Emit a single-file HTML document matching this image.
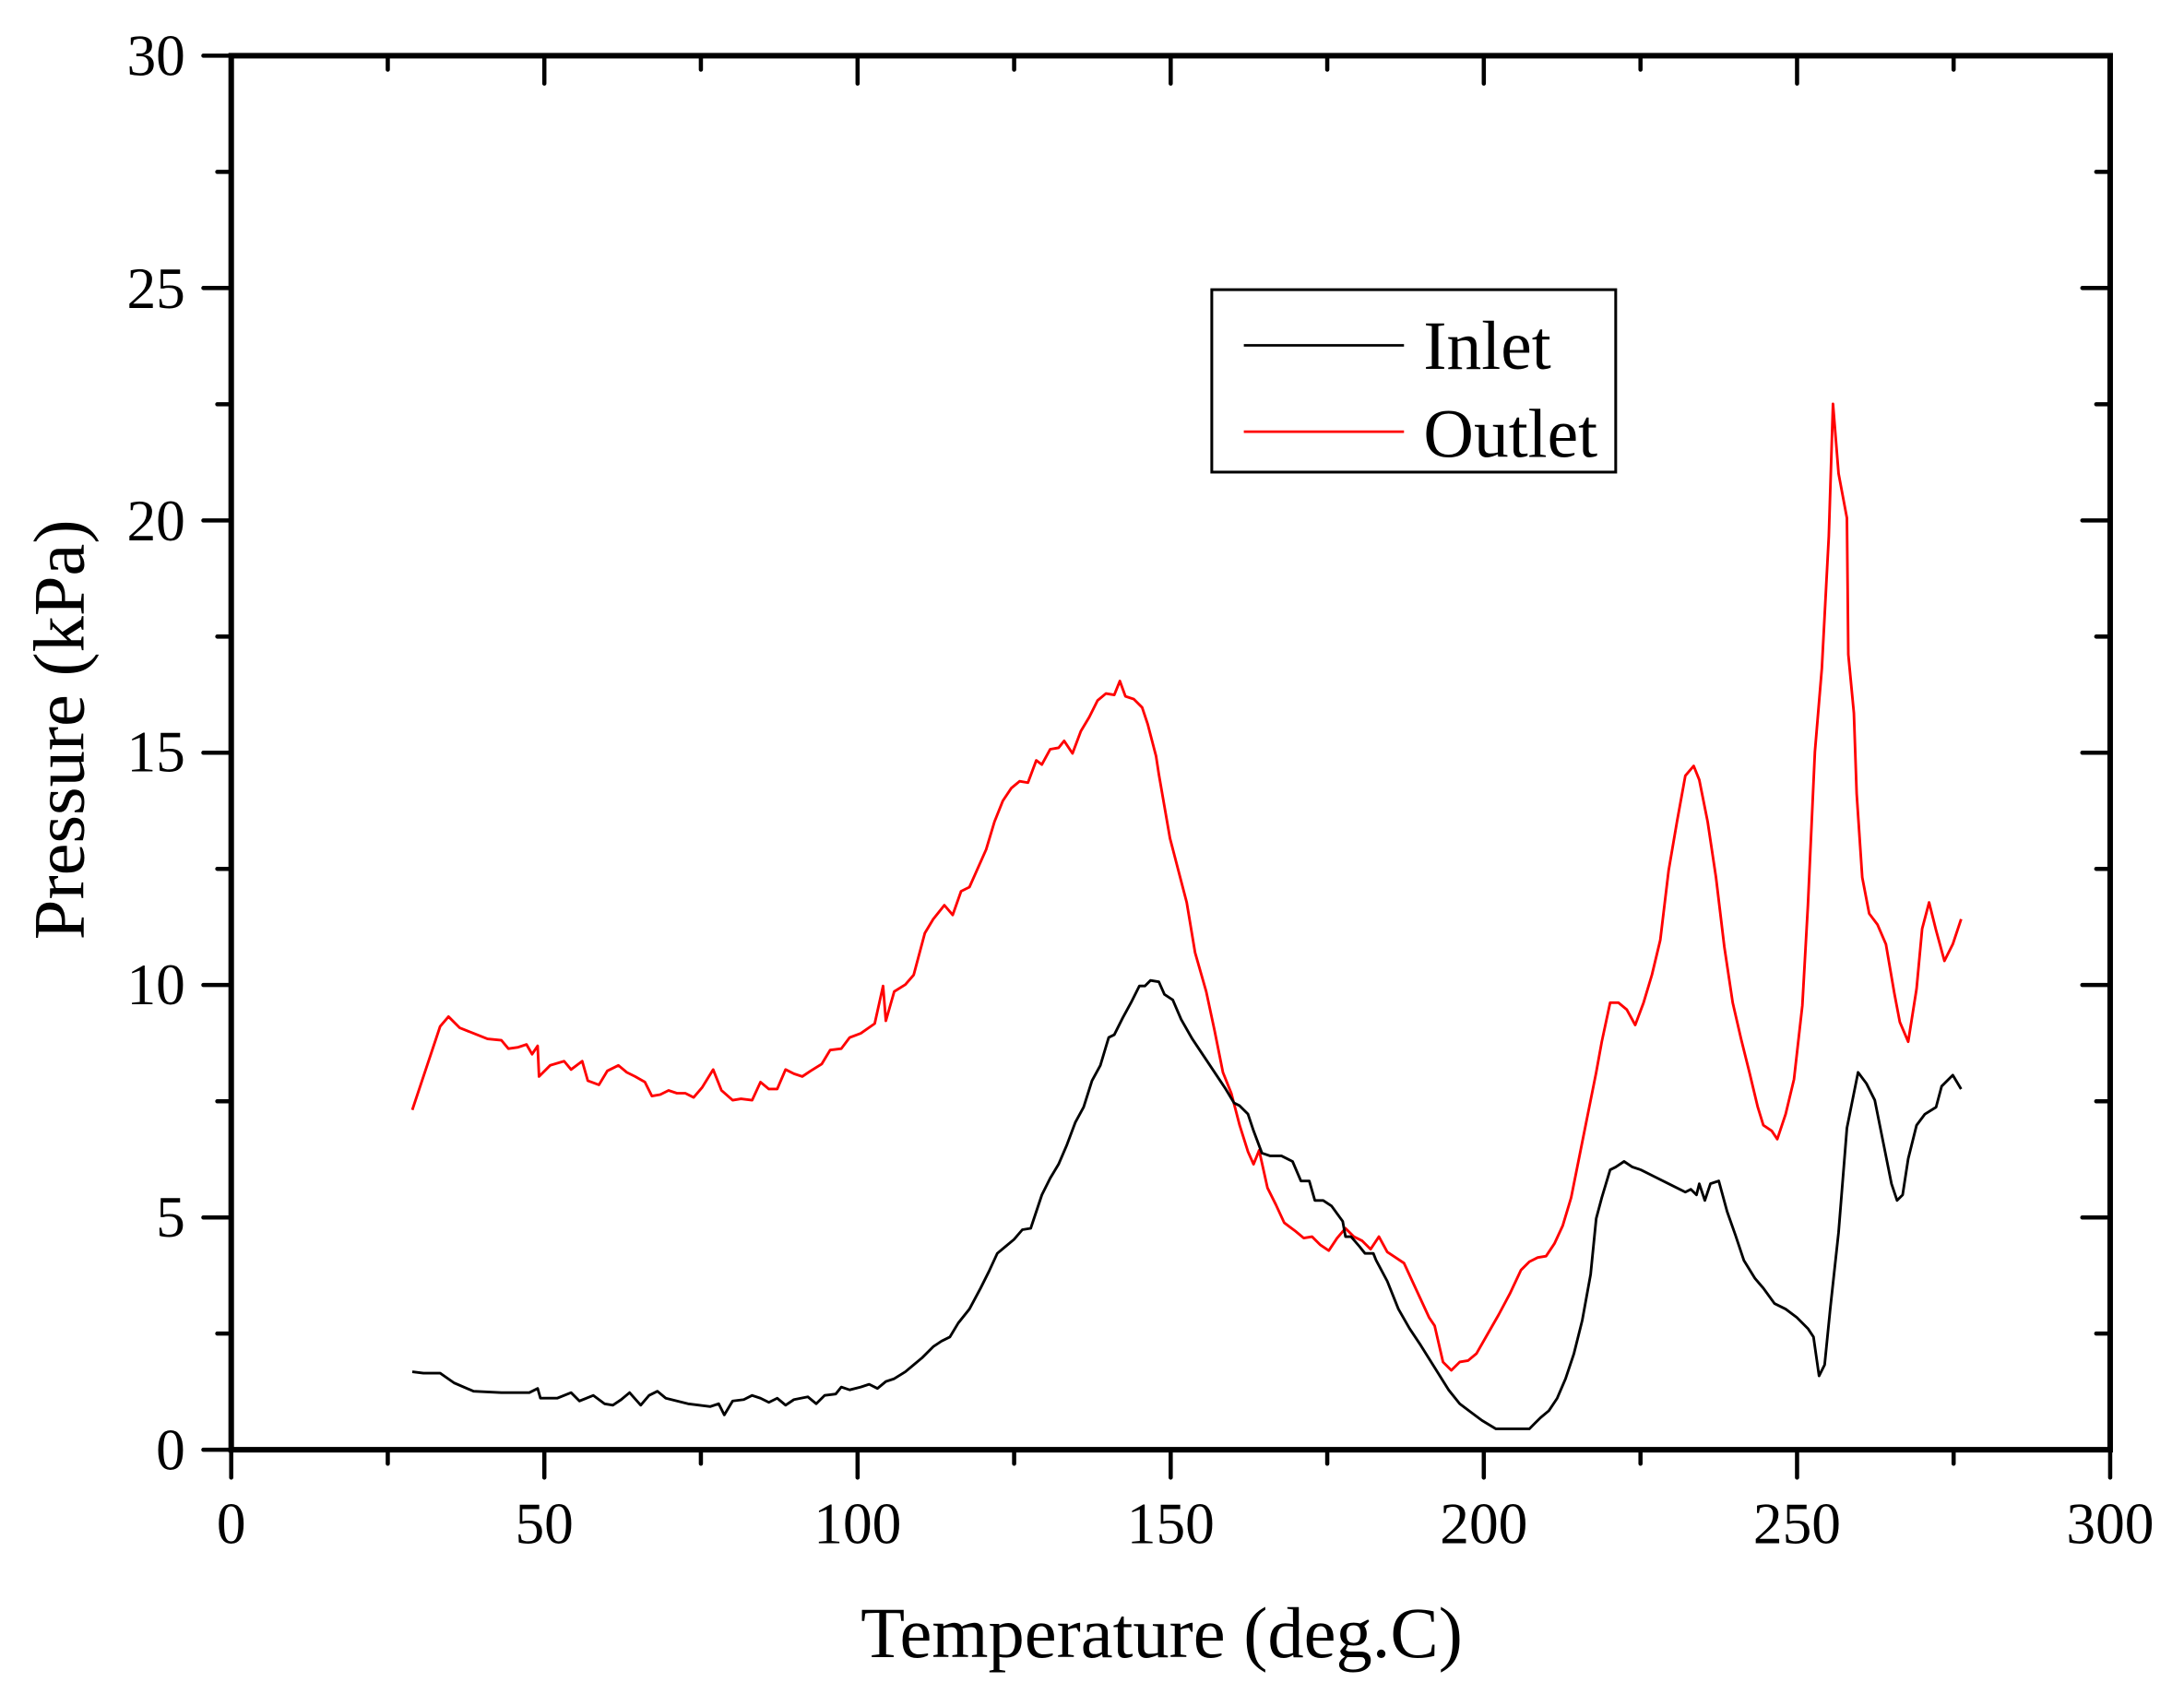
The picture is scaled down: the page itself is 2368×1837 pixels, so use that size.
<!DOCTYPE html>
<html><head><style>html,body{margin:0;padding:0;background:#fff}svg{display:block}</style></head>
<body>
<svg width="2368" height="1837" viewBox="0 0 1568 1216.4" xmlns="http://www.w3.org/2000/svg" font-family="Liberation Serif, serif">
<rect width="1568" height="1216.4" fill="#fff"/>
<g stroke="#000" stroke-width="3" stroke-linecap="round">
<path d="M166,1041v20M390.8,1041v20M615.7,1041v20M840.5,1041v20M1065.3,1041v20M1290.2,1041v20M1515,1041v20
M278.4,1041v10M503.2,1041v10M728.1,1041v10M952.9,1041v10M1177.8,1041v10M1402.6,1041v10
M166,40v20M390.8,40v20M615.7,40v20M840.5,40v20M1065.3,40v20M1290.2,40v20M1515,40v20
M278.4,40v10M503.2,40v10M728.1,40v10M952.9,40v10M1177.8,40v10M1402.6,40v10
M166,1041h-20M166,874.2h-20M166,707.3h-20M166,540.5h-20M166,373.7h-20M166,206.8h-20M166,40h-20
M166,957.6h-10M166,790.8h-10M166,623.9h-10M166,457.1h-10M166,290.3h-10M166,123.4h-10
M1515,874.2h-20M1515,707.3h-20M1515,540.5h-20M1515,373.7h-20M1515,206.8h-20
M1515,957.6h-10M1515,790.8h-10M1515,623.9h-10M1515,457.1h-10M1515,290.3h-10M1515,123.4h-10"/>
</g>
<rect x="166" y="40" width="1349" height="1001" fill="none" stroke="#000" stroke-width="4"/>
<g font-size="42" fill="#000" text-anchor="middle">
<text x="166" y="1108">0</text><text x="390.8" y="1108">50</text><text x="615.7" y="1108">100</text><text x="840.5" y="1108">150</text><text x="1065.3" y="1108">200</text><text x="1290.2" y="1108">250</text><text x="1515" y="1108">300</text>
</g>
<g font-size="42" fill="#000" text-anchor="end">
<text x="133" y="1055">0</text><text x="133" y="888">5</text><text x="133" y="721">10</text><text x="133" y="554">15</text><text x="133" y="388">20</text><text x="133" y="221">25</text><text x="133" y="54">30</text>
</g>
<text x="834" y="1190" font-size="52" text-anchor="middle">Temperature (deg.C)</text>
<text transform="translate(60,524) rotate(-90)" font-size="52" text-anchor="middle">Pressure (kPa)</text>
<rect x="870" y="208" width="290" height="131" fill="#fff" stroke="#000" stroke-width="2"/>
<line x1="893" y1="248" x2="1008" y2="248" stroke="#000" stroke-width="1.8"/>
<line x1="893" y1="310" x2="1008" y2="310" stroke="#f00" stroke-width="1.8"/>
<text x="1022" y="265" font-size="50">Inlet</text>
<text x="1022" y="328" font-size="50">Outlet</text>
<polyline fill="none" stroke="#f00" stroke-width="1.9" stroke-linejoin="round" points="296,797 305,770 316,737 322,730 330,738 340,742 350,746 360,747 365,753 372,752 378,750 382,757 386,751 387,773 395,765 405,762 410,768 418,762 422,776 430,779 436,769 444,765 450,770 456,773 463,777 468,787 474,786 480,783 486,785 492,785 498,788 504,781 512,768 518,783 526,790 532,789 540,790 546,777 552,782 558,782 564,768 570,771 576,773 582,769 590,764 596,754 604,753 610,745 618,742 628,735 634,708 636,733 642,712 650,707 656,700 664,670 670,660 678,650 684,657 690,640 696,637 700,628 708,610 714,590 720,575 726,566 732,561 738,562 744,546 748,549 754,538 760,537 764,532 770,541 776,525 782,515 788,503 794,498 800,499 804,489 808,500 814,502 820,508 824,520 830,543 832,556 840,602 846,625 852,648 858,684 866,712 872,740 878,770 884,785 890,808 896,827 900,836 904,826 910,853 916,865 922,878 930,884 936,889 942,888 948,894 954,898 960,889 966,882 972,888 978,891 984,897 990,888 996,899 1002,903 1008,907 1014,920 1020,933 1026,946 1030,952 1036,978 1042,984 1048,978 1054,977 1060,972 1068,958 1076,944 1084,929 1092,912 1098,906 1104,903 1110,902 1116,893 1122,880 1128,860 1134,830 1140,800 1146,770 1150,748 1156,720 1162,720 1168,725 1174,736 1180,720 1186,700 1192,675 1198,625 1204,590 1210,557 1216,550 1220,560 1226,590 1232,630 1238,680 1244,720 1250,746 1256,770 1262,795 1266,808 1272,812 1276,818 1282,800 1288,775 1294,722 1298,650 1303,540 1308,480 1313,385 1316,290 1320,340 1326,372 1327,470 1331,512 1333,570 1337,630 1342,656 1348,664 1354,678 1360,713 1364,734 1370,748 1376,710 1380,667 1385,648 1390,668 1396,690 1402,678 1408,660"/>
<polyline fill="none" stroke="#000" stroke-width="1.9" stroke-linejoin="round" points="296,985 304,986 316,986 326,993 340,999 360,1000 380,1000 386,997 388,1004 400,1004 410,1000 416,1006 426,1002 434,1008 440,1009 446,1005 452,1000 460,1009 466,1002 472,999 478,1004 486,1006 494,1008 502,1009 510,1010 516,1008 520,1016 526,1006 534,1005 540,1002 546,1004 552,1007 558,1004 564,1009 570,1005 580,1003 586,1008 592,1002 600,1001 604,996 610,998 618,996 624,994 630,997 636,992 642,990 650,985 656,980 662,975 670,967 676,963 682,960 688,950 696,940 704,925 710,913 716,900 722,895 728,890 734,883 740,882 744,870 748,858 754,846 760,836 766,822 772,806 778,795 784,776 790,765 796,745 800,743 806,731 812,720 818,708 822,708 826,704 832,705 836,714 842,718 848,732 856,746 864,758 872,770 880,782 886,792 890,794 896,800 900,812 906,828 912,830 920,830 928,834 934,848 940,848 944,862 950,862 956,866 964,877 966,888 970,888 976,895 980,900 986,900 988,905 996,920 1004,940 1012,954 1020,966 1030,982 1040,998 1048,1008 1056,1014 1064,1020 1074,1026 1086,1026 1098,1026 1102,1022 1106,1018 1112,1013 1118,1004 1124,990 1130,972 1136,948 1142,915 1146,875 1150,860 1156,840 1160,838 1166,834 1172,838 1178,840 1188,845 1200,851 1210,856 1214,854 1218,858 1220,850 1224,862 1228,850 1234,848 1240,870 1246,887 1252,905 1260,918 1266,925 1274,936 1282,940 1290,946 1298,954 1302,960 1306,988 1310,980 1314,940 1320,885 1326,810 1334,770 1340,778 1346,790 1352,820 1358,850 1362,862 1366,858 1370,832 1376,808 1382,800 1390,795 1394,780 1402,772 1408,782"/>
</svg>
</body></html>
